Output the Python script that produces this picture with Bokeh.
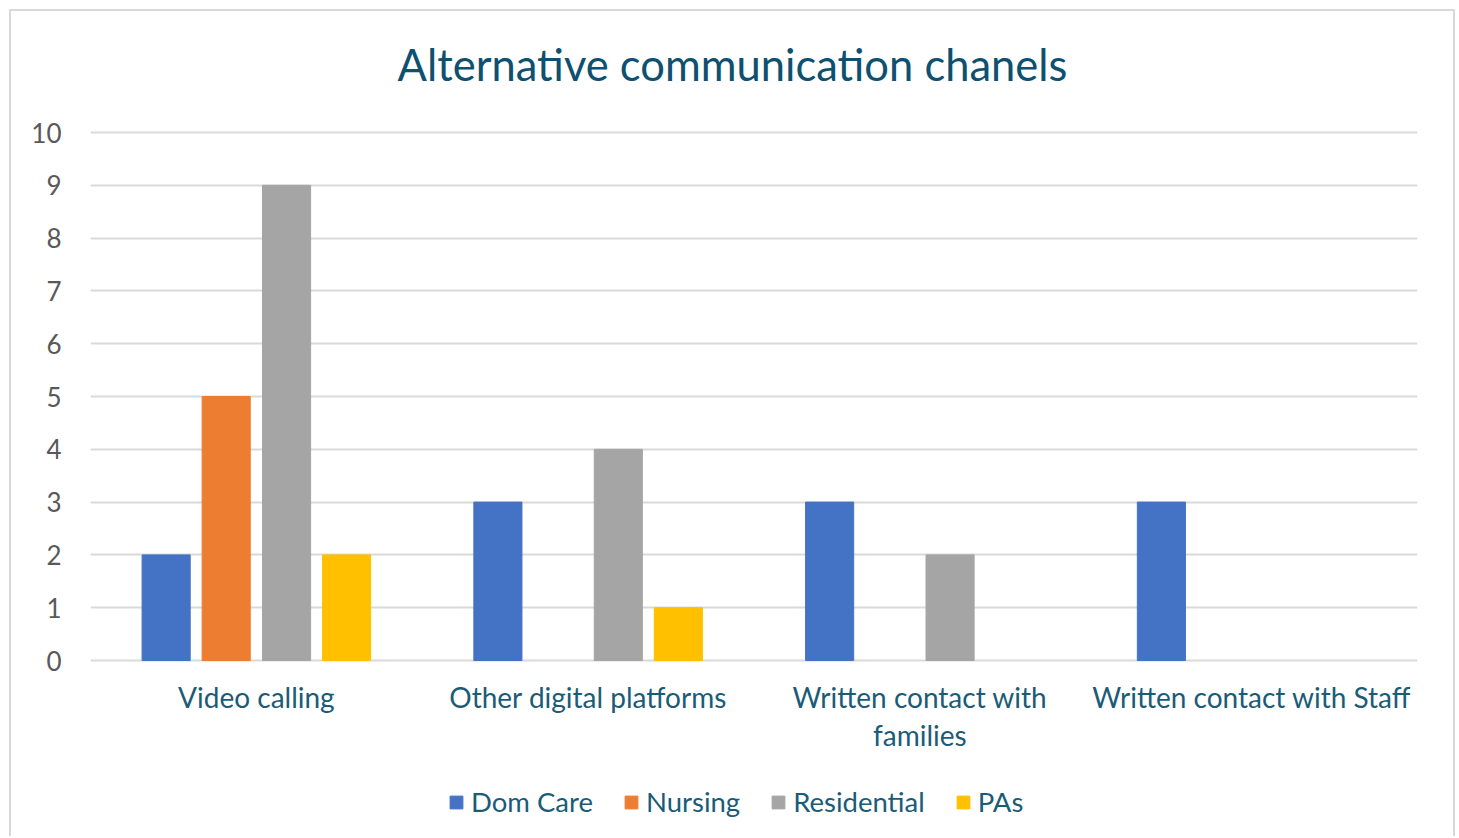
from bokeh.plotting import figure
from bokeh.models import FixedTicker, Legend, LegendItem, Label
from bokeh.core.properties import value
from bokeh.embed import file_html
from bokeh.resources import INLINE

categories = ["Video calling", "Other digital platforms", "Written contact with\nfamilies", "Written contact with Staff"]
series_names = ["Dom Care", "Nursing", "Residential", "PAs"]
dom_care = [2, 3, 3, 3]
nursing = [5, 0, 0, 0]
residential = [9, 4, 2, 0]
pas = [2, 1, 0, 0]
y_ticks = list(range(0, 11))

series_values = [dom_care, nursing, residential, pas]
colors = ["#4472C4", "#ED7D31", "#A5A5A5", "#FFC000"]
offsets = [-0.272, -0.091, 0.091, 0.272]
FONT = "Lato"
TEAL = "#1A5C78"

PX = 52.8  # pixels per unit on y
p = figure(width=1446, height=827, x_range=(0, 4), y_range=(-178 / PX, 649 / PX),
           output_backend="svg", toolbar_location=None, tools="",
           min_border_left=79, min_border_right=40, min_border_top=0, min_border_bottom=0)
p.styles = {"margin-left": "9px", "margin-top": "9px",
            "border-left": "2px solid #D9D9D9", "border-top": "2px solid #D9D9D9",
            "border-right": "2px solid #D9D9D9"}
p.outline_line_color = None
p.background_fill_color = "white"
p.border_fill_color = "white"

items = []
for name, vals, col, off in zip(series_names, series_values, colors, offsets):
    xs = [i + 0.5 + off for i, v in enumerate(vals) if v > 0]
    ys = [v for v in vals if v > 0]
    r = p.vbar(x=xs, top=ys, bottom=0, width=0.145, fill_color=col, line_color=col)
    items.append(LegendItem(label=name, renderers=[r]))

# category labels
p.text(x=[i + 0.5 for i in range(len(categories))], y=[-19 / PX] * len(categories), text=categories,
       text_align="center", text_baseline="top", text_font=value(FONT), text_font_size="28px",
       text_color=TEAL, text_line_height=1.12)

p.xaxis.visible = False

p.yaxis.ticker = FixedTicker(ticks=y_ticks)
p.yaxis.major_tick_line_color = None
p.yaxis.minor_tick_line_color = None
p.yaxis.axis_line_color = None
p.yaxis.major_label_text_font = FONT
p.yaxis.major_label_text_font_size = "26px"
p.yaxis.major_label_text_color = "#595959"
p.yaxis.major_label_standoff = 23

p.xgrid.grid_line_color = None
p.ygrid.ticker = FixedTicker(ticks=y_ticks)
p.ygrid.grid_line_color = "#D9D9D9"
p.ygrid.grid_line_width = 2

title = Label(x=(732 - 90) / 331.75, y=(660 - 63) / PX, text="Alternative communication chanels",
              text_align="center", text_baseline="middle", text_font=FONT, text_font_size="43.5px",
              text_color="#0E5070")
p.add_layout(title)

legend = Legend(items=items, orientation="horizontal", location=(358, 20),
                label_text_font=FONT, label_text_font_size="27.5px", label_text_color=TEAL,
                glyph_width=16, glyph_height=16, spacing=30, label_standoff=7,
                padding=0, margin=0,
                border_line_color=None, background_fill_alpha=0)
p.add_layout(legend, "center")

open("out.html", "w").write(file_html(p, INLINE))
